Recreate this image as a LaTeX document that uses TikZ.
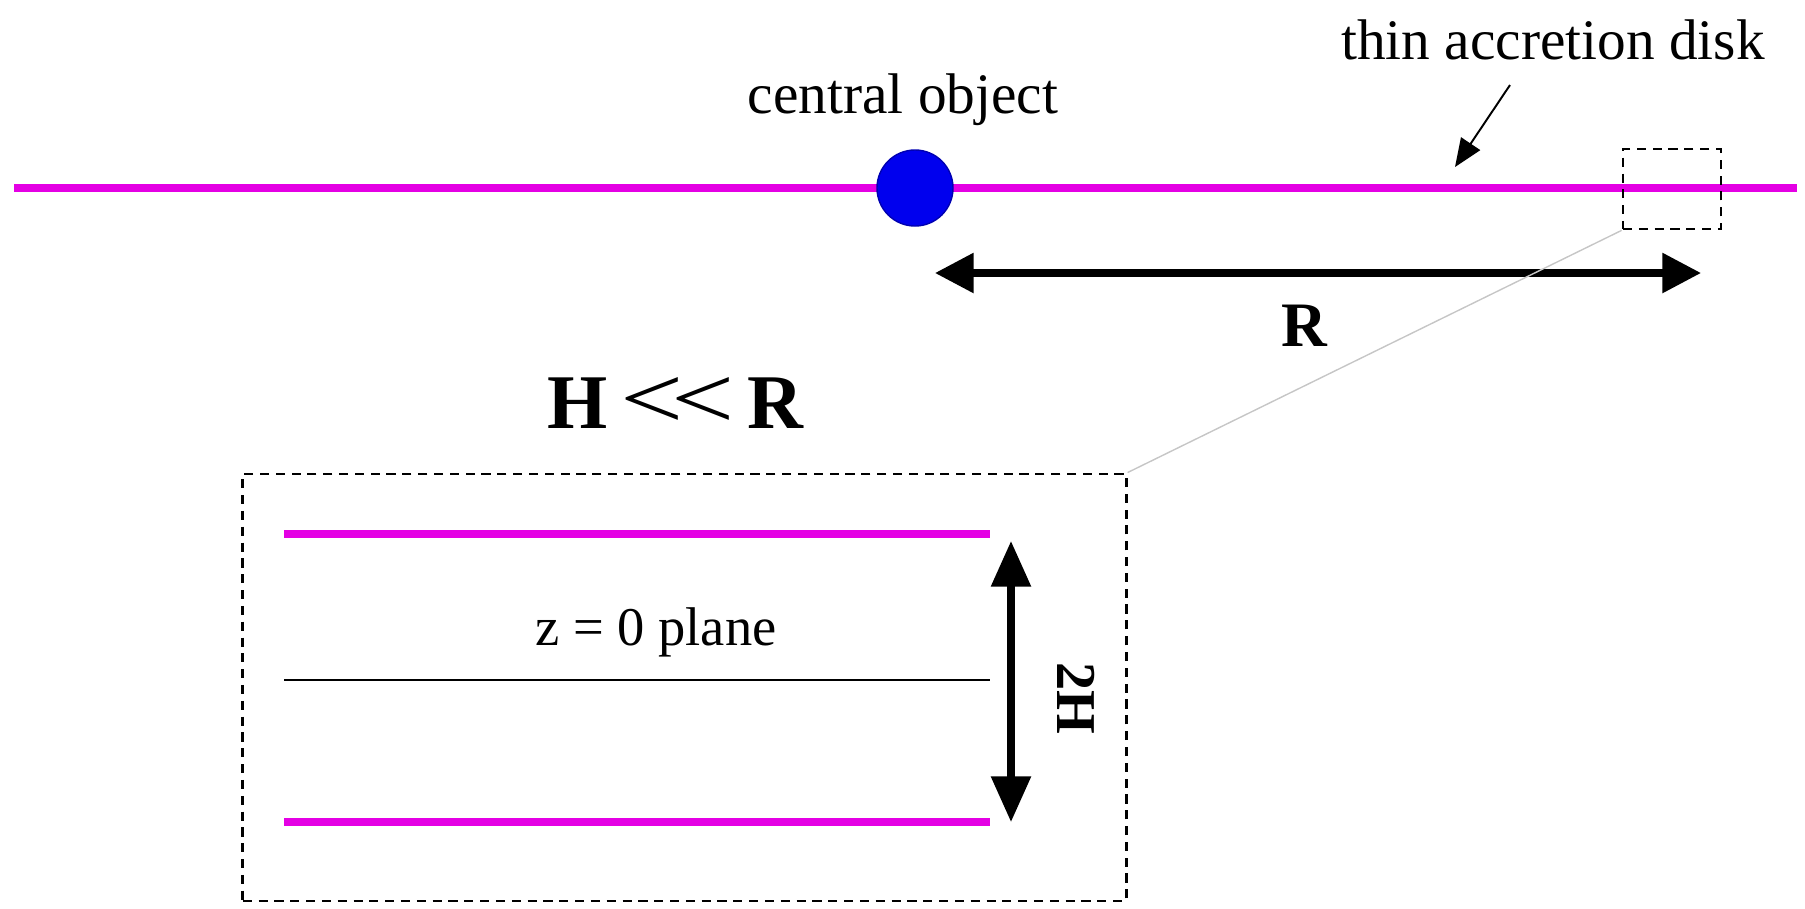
\documentclass[tikz,border=0pt]{standalone}
\usepackage{fontspec}
\setmainfont{Liberation Serif}
\usetikzlibrary{arrows.meta,positioning}
\definecolor{diskpink}{RGB}{228,0,228}
\definecolor{objblue}{RGB}{0,0,238}

\begin{document}
\begin{tikzpicture}[
        x=0.01cm, y=-0.01cm,
        disk/.style={draw=diskpink, line width=2.4pt},
        dbox/.style={
            draw,
            dashed,
            line width=0.75pt,
            dash pattern=on 2.6pt off 1.9pt,
            inner sep=0pt
        },
        lbl/.style={font=\fontsize{16.3}{18}\selectfont, inner sep=0pt},
        sym/.style={font=\bfseries\fontsize{18}{20}\selectfont, inner sep=0pt},
        dim/.style={{Triangle[length=11pt,width=11pt]}-{Triangle[length=11pt,width=11pt]}, line width=2pt}
    ]
    \useasboundingbox (0,0) rectangle (1805,908);

    % the disk seen edge-on
    \coordinate (dl) at (14,188);
    \coordinate (dr) at (1797,188);
    \draw[disk] (dl) -- (dr);
    \node[circle, fill=objblue, draw=objblue!75!black, minimum size=0.76cm, inner sep=0pt] (obj) at (915,188) {};
    \node[lbl] (objlbl) at (903,100) {central object};
    \node[lbl] (disklbl) at (1553,40) {thin accretion disk};
    \coordinate (dtail) at (1510,85);
    \coordinate (dtip) at (1455,167);
    \draw[-{Triangle[length=8pt,width=6.5pt]}, line width=0.55pt] (dtail) -- (dtip);

    % zoomed piece
    \node[dbox, minimum width=0.98cm, minimum height=0.80cm] (zoom) at (1672,189) {};

    % radius
    \coordinate (rl) at (935,273);
    \coordinate (rr) at (1701,273);
    \draw[dim] (rl) -- (rr);
    \node[sym] (rlbl) at (1304,326) {R};
    \node[font=\fontsize{22}{24}\selectfont, inner sep=0pt] (cond) at (676,403)
        {\textbf{H}\,\scalebox{1.45}[1.15]{<\kern-2.5pt<}\,\textbf{R}};

    % inset
    \node[dbox, minimum width=8.83cm, minimum height=4.27cm] (inset) at (684.5,687.5) {};
    \draw[gray!45, line width=0.4pt] (inset.north east) -- (zoom.south west);
    \draw[disk] (284,534) -- (990,534);
    \draw[line width=0.45pt] (284,680) -- (990,680);
    \draw[disk] (284,822) -- (990,822);
    \coordinate (ht) at (1011,541);
    \coordinate (hb) at (1011,822);
    \draw[dim, {Triangle[length=13pt,width=11pt]}-{Triangle[length=13pt,width=11pt]}] (ht) -- (hb);
    \node[lbl, font=\fontsize{15.5}{18}\selectfont] (plane) at (656,632) {z = 0 plane};
    \node[sym, font=\bfseries\fontsize{16}{18}\selectfont, rotate=-90] (hlbl) at (1076,698) {2H};
\end{tikzpicture}
\end{document}
